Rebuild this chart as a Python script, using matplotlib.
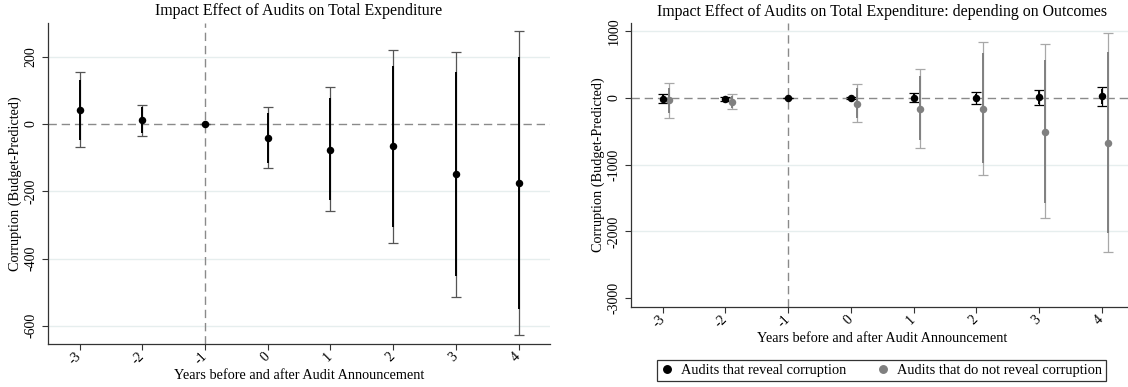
import matplotlib
matplotlib.use("Agg")
import matplotlib.pyplot as plt
from matplotlib.lines import Line2D
import numpy as np

plt.rcParams['font.family'] = ['Liberation Serif', 'DejaVu Serif']
plt.rcParams['axes.unicode_minus'] = False

years = [-3, -2, -1, 0, 1, 2, 3, 4]
tick_labels = ['-3', '-2', '-1', '0', '1', '2', '3', '4']

# Left panel: point estimate, outer (95%) and inner (90%) confidence bounds
left_est = [42, 11, 0, -42, -76, -67, -150, -176]
left_hi95 = [153, 56, 0, 51, 110, 220, 214, 276]
left_lo95 = [-68, -35, 0, -132, -259, -353, -513, -627]
left_hi90 = [132, 50, 0, 33, 77, 171, 153, 199]
left_lo90 = [-47, -28, 0, -116, -227, -305, -451, -551]

# Right panel: audits that reveal corruption
rev_est = [-10, -15, 0, 0, 5, 5, 10, 25]
rev_hi95 = [55, 10, 0, 15, 70, 85, 125, 165]
rev_lo95 = [-75, -40, 0, -15, -55, -85, -110, -120]
rev_hi90 = [45, 5, 0, 10, 55, 65, 100, 135]
rev_lo90 = [-65, -35, 0, -10, -45, -65, -85, -90]

# Right panel: audits that do not reveal corruption
nrev_est = [-30, -55, None, -85, -165, -160, -505, -680]
nrev_hi95 = [230, 55, None, 205, 430, 845, 805, 970]
nrev_lo95 = [-300, -165, None, -365, -750, -1150, -1805, -2315]
nrev_hi90 = [150, 35, None, 150, 330, 670, 570, 695]
nrev_lo90 = [-230, -145, None, -300, -630, -980, -1570, -2030]

legend_labels = ['Audits that reveal corruption', 'Audits that do not reveal corruption']

W, H = 1128, 387
fig = plt.figure(figsize=(W / 100, H / 100), dpi=100)

grid_col = '#e6eeee'
ref_col = '#8a8a8a'
TFS = 10.0   # tick labels
LFS = 10.3   # axis labels
TITLE_FS = 11.4


def style(ax):
    for s in ['top', 'right']:
        ax.spines[s].set_visible(False)
    for s in ['left', 'bottom']:
        ax.spines[s].set_color('#333333')
        ax.spines[s].set_linewidth(0.9)
    ax.tick_params(axis='both', direction='out', length=4, width=0.8, color='#333333', labelsize=TFS)
    ax.set_xticks(years)
    ax.set_xticklabels(tick_labels, rotation=45, ha='right', va='center', rotation_mode='anchor')
    for lab in ax.get_yticklabels():
        lab.set_rotation(90)
        lab.set_va('center')
    ax.set_xlabel('Years before and after Audit Announcement', fontsize=LFS, labelpad=1)
    ax.set_ylabel('Corruption (Budget-Predicted)', fontsize=LFS, labelpad=2)


def draw_ci(ax, x, est, lo95, hi95, lo90, hi90, outer_col, inner_col, mcol):
    xs, e, l95, h95, l90, h90 = [], [], [], [], [], []
    for i in range(len(x)):
        if est[i] is None:
            continue
        xs.append(x[i]); e.append(est[i]); l95.append(lo95[i]); h95.append(hi95[i])
        l90.append(lo90[i]); h90.append(hi90[i])
    xs = np.array(xs, float); e = np.array(e, float)
    l95 = np.array(l95, float); h95 = np.array(h95, float)
    l90 = np.array(l90, float); h90 = np.array(h90, float)
    ax.errorbar(xs, (l95 + h95) / 2, yerr=(h95 - l95) / 2, fmt='none', ecolor=outer_col,
                elinewidth=0.9, capsize=3.3, capthick=0.9, zorder=3)
    ax.vlines(xs, l90, h90, color=inner_col, linewidth=1.4, zorder=4)
    ax.plot(xs, e, 'o', color=mcol, markersize=5.4, markeredgewidth=0, zorder=5)


# ---------------- Left panel ----------------
axL = fig.add_axes([48.2 / W, 1 - 344 / H, (550 - 48.2) / W, (344 - 23) / H])
axL.set_xlim(-3.5, 4.5)
axL.set_ylim(-654, 300)
axL.set_yticks([200, 0, -200, -400, -600])
for g in [200, -200, -400, -600]:
    axL.axhline(g, color=grid_col, lw=1.0, zorder=0)
axL.axhline(0, color=ref_col, lw=1.0, ls=(0, (6, 3.5)), zorder=1)
axL.axvline(-1, color=ref_col, lw=1.0, ls=(0, (6, 3.5)), zorder=1)
draw_ci(axL, years, left_est, left_lo95, left_hi95, left_lo90, left_hi90,
        '#555555', '#000000', '#000000')
style(axL)
fig.text(298.5 / W, 1 - 11 / H, 'Impact Effect of Audits on Total Expenditure',
         fontsize=TITLE_FS, ha='center', va='center')

# ---------------- Right panel ----------------
axR = fig.add_axes([631.4 / W, 1 - 307 / H, (8 * 62.7) / W, (307 - 22.7) / H])
axR.set_xlim(-3.5, 4.5)
axR.set_ylim(-3133, 1129)
axR.set_yticks([1000, 0, -1000, -2000, -3000])
for g in [1000, -1000, -2000]:
    axR.axhline(g, color=grid_col, lw=1.0, zorder=0)
axR.axhline(0, color=ref_col, lw=1.0, ls=(0, (6, 3.5)), zorder=1)
axR.axvline(-1, color=ref_col, lw=1.0, ls=(0, (6, 3.5)), zorder=1)
x_grey = [y + 0.1 for y in years]
draw_ci(axR, x_grey, nrev_est, nrev_lo95, nrev_hi95, nrev_lo90, nrev_hi90,
        '#a8a8a8', '#808080', '#808080')
draw_ci(axR, years, rev_est, rev_lo95, rev_hi95, rev_lo90, rev_hi90,
        '#000000', '#000000', '#000000')
style(axR)
fig.text(882 / W, 1 - 11.7 / H, 'Impact Effect of Audits on Total Expenditure: depending on Outcomes',
         fontsize=TITLE_FS, ha='center', va='center')

handles = [Line2D([], [], ls='none', marker='o', color='#000000', markersize=5.4),
           Line2D([], [], ls='none', marker='o', color='#808080', markersize=5.4)]
leg = fig.legend(handles, legend_labels, loc='center', ncol=2,
                 bbox_to_anchor=((654 + 1109) / 2 / W, 1 - 370.5 / H),
                 fontsize=10.4, frameon=True, fancybox=False, handlelength=0.8,
                 handletextpad=0.6, columnspacing=2.1, borderpad=0.3)
leg.get_frame().set_edgecolor('#000000')
leg.get_frame().set_linewidth(0.9)

fig.savefig('out.png', dpi=100)
